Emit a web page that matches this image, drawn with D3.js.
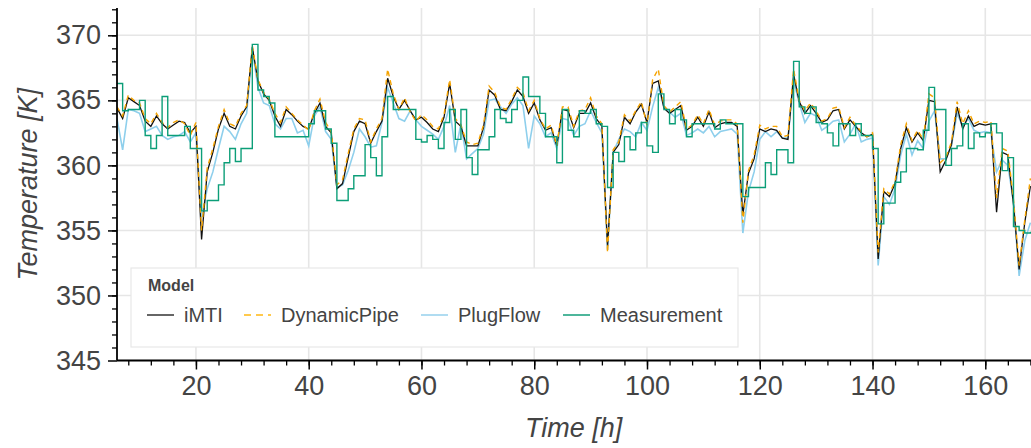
<!DOCTYPE html>
<html>
<head>
<meta charset="utf-8">
<script src="https://cdnjs.cloudflare.com/ajax/libs/d3/7.8.5/d3.min.js"></script>
<style>
  body { margin: 0; background: #fff; }
  text { font-family: "Liberation Sans", Arial, sans-serif; fill: #444; }
</style>
</head>
<body>
<div id="chart"></div>
<script>
// hourly samples
var hours = d3.range(6, 169);

var iMTI = [
  364.4, 363.6, 365.2, 364.9, 364.6, 363.4, 363.0, 363.8, 363.2, 362.8,
  363.1, 363.4, 363.3, 362.5, 363.0, 354.3, 359.5, 361.0, 362.8, 364.0,
  363.0, 362.8, 363.8, 364.5, 369.1, 366.5, 365.5, 365.0, 363.8, 363.0,
  364.3, 363.9, 363.4, 363.0, 362.8, 364.0, 364.8, 363.0, 362.5, 358.2,
  358.6, 360.6, 362.6, 363.4, 363.2, 361.7, 362.6, 363.4, 366.7, 365.3,
  364.3, 365.0, 364.2, 363.5, 363.7, 363.3, 362.8, 362.6, 363.7, 366.3,
  363.4, 363.0, 361.5, 361.5, 361.5, 362.9, 365.8, 365.4, 364.3, 364.2,
  364.9, 365.8, 365.3, 364.0, 364.8, 363.5, 362.7, 362.9, 361.5, 364.3,
  364.2, 362.9, 364.0, 364.0, 364.8, 363.6, 363.0, 353.8, 361.0, 361.6,
  363.7, 363.2, 364.1, 364.7, 363.3, 366.3, 366.5, 364.4, 364.0, 364.3,
  364.6, 362.7, 363.0, 363.7, 363.0, 364.1, 362.9, 363.2, 363.3, 363.3,
  363.0, 356.2, 359.4, 360.5, 362.8, 362.6, 362.8, 362.7, 362.1, 362.0,
  367.0, 364.9, 364.0, 364.6, 364.0, 363.3, 363.5, 364.2, 364.3, 362.8,
  363.5, 363.0, 362.5, 362.2, 362.4, 352.8, 358.0, 357.6, 358.6, 361.3,
  362.9, 361.8, 362.5, 361.9, 365.0, 364.9, 359.5, 360.4, 361.6, 364.5,
  362.8, 363.8, 363.0, 363.2, 363.1, 363.2, 356.4, 361.0, 360.8, 357.0,
  352.0, 355.6, 358.4
];

var dynamicPipe = [
  364.5, 363.8, 365.4, 365.0, 364.8, 363.6, 363.2, 364.0, 363.3, 362.9,
  363.3, 363.5, 363.2, 362.3, 363.3, 355.0, 359.8, 361.3, 363.0, 364.3,
  363.2, 363.0, 364.0, 364.6, 369.2, 366.6, 365.6, 365.1, 364.0, 363.3,
  364.5, 364.0, 363.5, 363.1, 362.7, 364.2, 365.1, 363.3, 362.6, 358.5,
  358.9, 360.9, 362.8, 363.6, 363.5, 361.8, 362.8, 363.6, 367.4, 365.5,
  364.3, 365.2, 364.1, 363.4, 363.9, 363.5, 363.0, 362.8, 363.9, 366.6,
  363.6, 363.1, 361.8, 361.6, 361.7, 363.1, 366.1, 365.6, 364.5, 364.3,
  365.1, 366.0, 365.6, 364.2, 365.0, 363.6, 362.8, 363.1, 361.5, 364.5,
  364.5, 363.0, 364.2, 364.3, 365.2, 363.8, 363.2, 353.3, 361.2, 361.8,
  363.9, 363.4, 364.2, 364.9, 363.1, 366.6, 367.4, 364.6, 364.1, 364.5,
  364.9, 362.8, 363.1, 363.9, 363.2, 364.3, 363.1, 363.4, 363.5, 363.5,
  363.2, 355.6, 359.6, 360.8, 363.1, 362.8, 363.0, 363.0, 362.2, 362.3,
  367.4, 365.0, 364.2, 364.8, 364.2, 363.4, 363.6, 364.4, 364.5, 362.9,
  363.7, 363.1, 362.6, 362.2, 362.5, 353.3, 358.2, 357.8, 358.8, 361.6,
  363.2, 361.9, 362.7, 362.0, 365.5, 365.2, 360.2, 360.6, 361.8, 364.9,
  363.2, 364.2, 363.2, 363.4, 363.3, 363.4, 357.5, 361.3, 361.1, 357.4,
  352.3, 355.8, 359.0
];

var plugFlow = [
  363.6, 361.2, 364.3, 364.2, 364.0, 362.6, 362.8, 363.0, 362.3, 362.0,
  362.2, 362.3, 362.6, 361.8, 362.5, 356.0, 358.2, 359.5, 361.3, 363.0,
  362.6, 362.0, 363.2, 364.0, 368.9, 366.0, 364.8, 364.6, 363.2, 362.8,
  363.6, 363.6, 362.5, 362.7, 361.5, 363.8, 364.5, 362.6, 362.0, 358.3,
  358.5, 359.6, 361.0, 362.8, 362.2, 361.4, 361.5, 363.3, 366.0, 364.8,
  363.6, 363.4, 364.2, 363.5, 363.0, 362.7, 362.4, 362.0, 363.0, 364.6,
  361.0, 363.2, 360.5, 360.9, 361.3, 362.4, 365.0, 365.1, 364.5, 364.0,
  364.7, 365.2, 364.6, 361.3, 363.8, 363.2, 362.2, 362.5, 361.3, 363.6,
  363.5, 362.3, 363.0, 363.2, 364.2, 363.3, 362.5, 353.5, 361.0, 362.0,
  362.8, 362.6, 362.2, 363.3, 362.7, 364.5, 366.0, 364.5, 364.1, 363.7,
  364.0, 362.3, 362.5, 362.8, 362.5, 363.0, 362.2, 362.6, 362.7, 362.8,
  362.4, 354.8, 358.0, 359.5, 362.0, 362.6, 362.2, 362.6, 362.1, 362.1,
  366.5, 364.8, 363.3, 364.0, 363.8, 362.7, 363.0, 363.4, 363.5, 361.8,
  362.4, 363.2, 361.8, 362.0, 362.1, 352.3, 357.6, 357.0, 358.2, 360.8,
  362.4, 360.8, 361.9, 361.3, 363.4, 364.2, 360.5, 360.5, 361.5, 364.0,
  363.0, 363.6, 362.7, 362.5, 362.6, 362.5, 359.5, 360.4, 360.0, 357.2,
  351.5, 354.2, 355.6
];

var measurement = [
  366.3, 364.2, 364.3, 364.3, 365.0, 362.3, 361.3, 362.3, 365.3, 362.3,
  362.3, 362.3, 363.0, 361.3, 361.3, 356.5, 357.3, 357.3, 358.5, 360.2,
  361.3, 360.3, 361.3, 361.3, 369.3, 365.8, 365.3, 364.8, 362.2, 362.2,
  362.2, 362.2, 362.2, 362.2, 363.2, 364.2, 364.2, 362.8, 361.7, 357.3,
  357.3, 358.2, 359.2, 359.2, 361.6, 360.6, 359.2, 362.2, 365.3, 364.3,
  364.3, 364.3, 364.3, 362.0, 361.8, 362.3, 362.0, 361.3, 363.3, 364.3,
  362.0, 364.3, 360.6, 359.3, 361.2, 361.2, 362.2, 364.3, 363.6, 363.3,
  364.3, 365.0, 366.8, 365.3, 365.3, 364.0, 362.2, 362.2, 360.2, 364.3,
  362.7, 362.2, 364.2, 364.0, 364.3, 363.2, 363.0, 358.3, 361.0, 360.3,
  362.2, 361.2, 362.5, 363.3, 361.5, 361.0, 365.5, 364.3, 363.2, 364.3,
  363.5, 362.2, 363.2, 363.2, 363.2, 363.2, 362.8, 363.5, 363.2, 363.2,
  363.2, 357.6, 358.3, 358.3, 358.3, 360.2, 359.3, 361.2, 361.2, 360.2,
  368.0, 364.5, 364.0, 364.5, 363.3, 363.2, 362.5, 361.5, 363.2, 363.2,
  362.3, 363.2, 362.3, 362.3, 361.3, 355.5, 357.1, 357.1, 358.7, 359.5,
  361.3, 361.3, 361.2, 362.7, 366.0, 364.3, 364.3, 360.0, 361.3, 361.5,
  363.2, 361.3, 362.5, 362.2, 362.5, 363.2, 362.5, 359.6, 360.6, 355.3,
  355.0, 354.8, 354.9
];

var models = ["iMTI", "DynamicPipe", "PlugFlow", "Measurement"];
var xTicks = [20, 40, 60, 80, 100, 120, 140, 160];
var yTicks = [345, 350, 355, 360, 365, 370];

var W = 1031, H = 448;
var pLeft = 117, pRight = 1030.4, pTop = 8, pBottom = 360.5;

var svg = d3.select("#chart").append("svg")
  .attr("width", W).attr("height", H);

var x = d3.scaleLinear().domain([6, 168]).range([pLeft, pRight]);
var y = d3.scaleLinear().domain([345, 372.1]).range([pBottom, pTop]);

// grid
svg.append("g").selectAll("line").data(xTicks).enter().append("line")
  .attr("x1", function (d) { return x(d); }).attr("x2", function (d) { return x(d); })
  .attr("y1", pTop).attr("y2", pBottom)
  .style("stroke", "#e6e6e6").style("stroke-width", 1.6);
svg.append("g").selectAll("line").data(yTicks).enter().append("line")
  .attr("x1", pLeft).attr("x2", W)
  .attr("y1", function (d) { return y(d); }).attr("y2", function (d) { return y(d); })
  .style("stroke", "#e6e6e6").style("stroke-width", 1.6);

svg.append("clipPath").attr("id", "clip").append("rect")
  .attr("x", pLeft).attr("y", pTop).attr("width", W - pLeft).attr("height", pBottom - pTop);

var plot = svg.append("g").attr("clip-path", "url(#clip)");

function lineFor(vals, curve) {
  return d3.line()
    .x(function (d, i) { return x(hours[i]); })
    .y(function (d) { return y(d); })
    .curve(curve)(vals);
}

plot.append("path").attr("d", lineFor(plugFlow, d3.curveLinear))
  .style("fill", "none").style("stroke", "#8ecfec").style("stroke-width", 1.6);
plot.append("path").attr("d", lineFor(iMTI, d3.curveLinear))
  .style("fill", "none").style("stroke", "#111").style("stroke-width", 1.3);
plot.append("path").attr("d", lineFor(dynamicPipe, d3.curveLinear))
  .style("fill", "none").style("stroke", "#f5a300").style("stroke-width", 1.4)
  .style("stroke-dasharray", "5,4");
plot.append("path").attr("d", lineFor(measurement, d3.curveStepAfter))
  .style("fill", "none").style("stroke", "#0c9e78").style("stroke-width", 1.4);

// axes
var xAxis = svg.append("g").attr("transform", "translate(0," + pBottom + ")");
xAxis.call(d3.axisBottom(x).tickValues(d3.range(8, 169, 4)).tickSize(5).tickFormat(""));
xAxis.select(".domain").remove();
xAxis.selectAll("line").style("stroke", "#000").style("stroke-width", 1.3);
var xMaj = svg.append("g").attr("transform", "translate(0," + pBottom + ")")
  .call(d3.axisBottom(x).tickValues(xTicks).tickSize(9).tickPadding(6));
xMaj.select(".domain").remove();
xMaj.selectAll("line").style("stroke", "#000").style("stroke-width", 1.5);
xMaj.selectAll("text").style("font-size", "27px").style("fill", "#444")
  .style("font-family", "'Liberation Sans', Arial, sans-serif");

var yAxis = svg.append("g").attr("transform", "translate(" + pLeft + ",0)");
yAxis.call(d3.axisLeft(y).tickValues(d3.range(346, 373, 1)).tickSize(5).tickFormat(""));
yAxis.select(".domain").remove();
yAxis.selectAll("line").style("stroke", "#000").style("stroke-width", 1.3);
var yMaj = svg.append("g").attr("transform", "translate(" + pLeft + ",0)")
  .call(d3.axisLeft(y).tickValues(yTicks).tickSize(9).tickPadding(7));
yMaj.select(".domain").remove();
yMaj.selectAll("line").style("stroke", "#000").style("stroke-width", 1.5);
yMaj.selectAll("text").style("font-size", "27px").style("fill", "#444")
  .style("font-family", "'Liberation Sans', Arial, sans-serif");

// spines
svg.append("line").attr("x1", pLeft).attr("x2", pLeft).attr("y1", pTop).attr("y2", pBottom)
  .style("stroke", "#000").style("stroke-width", 1.8);
svg.append("line").attr("x1", pLeft).attr("x2", W).attr("y1", pBottom).attr("y2", pBottom)
  .style("stroke", "#000").style("stroke-width", 1.8);

// axis titles
svg.append("text").attr("x", (pLeft + pRight) / 2).attr("y", 437)
  .attr("text-anchor", "middle").style("font-size", "27px").style("font-style", "italic")
  .text("Time [h]");
svg.append("text").attr("transform", "translate(37," + ((pTop + pBottom) / 2) + ") rotate(-90)")
  .attr("text-anchor", "middle").style("font-size", "27px").style("font-style", "italic")
  .text("Temperature [K]");

// legend
var lg = svg.append("g");
lg.append("rect").attr("x", 131).attr("y", 268).attr("width", 607).attr("height", 79)
  .style("fill", "#fff").style("stroke", "#e8e8e8").style("stroke-width", 1.2);
lg.append("text").attr("x", 148).attr("y", 291).style("font-size", "16px")
  .style("font-weight", "bold").text("Model");
var lgColors = ["#555", "#ffc94d", "#a8d8f0", "#3aae90"];
var lgX = [147, 244, 421, 563];
models.forEach(function (m, i) {
  lg.append("line").attr("x1", lgX[i]).attr("x2", lgX[i] + 27)
    .attr("y1", 315).attr("y2", 315)
    .style("stroke", lgColors[i]).style("stroke-width", 1.8)
    .style("stroke-dasharray", i === 1 ? "7,5" : null);
  lg.append("text").attr("x", lgX[i] + 37).attr("y", 322).style("font-size", "20px").text(m);
});
</script>
</body>
</html>
